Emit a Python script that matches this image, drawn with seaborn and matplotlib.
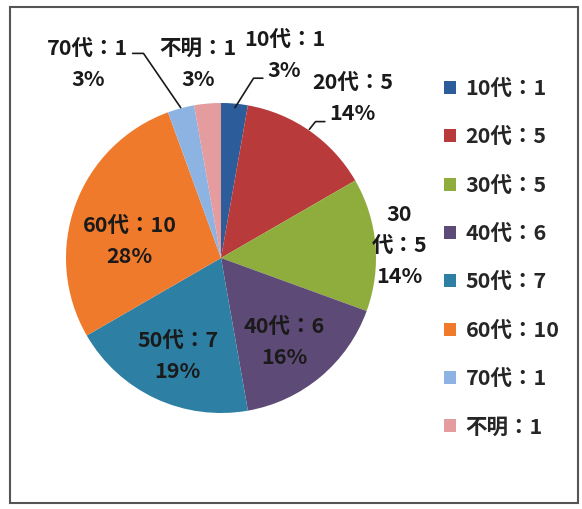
import matplotlib
matplotlib.use("Agg")
import matplotlib.pyplot as plt
from matplotlib.patches import Patch, Rectangle
import seaborn as sns

# data
groups = ["10代", "20代", "30代", "40代", "50代", "60代", "70代", "不明"]
counts = [1, 5, 5, 6, 7, 10, 1, 1]
pct_labels = ["3%", "14%", "14%", "16%", "19%", "28%", "3%", "3%"]
colors = ["#2c5c9a", "#b93a3b", "#8fad3d", "#5e4a77", "#2d80a3",
          "#f07a2b", "#8db3e2", "#e59c9e"]

# label placement (data units, pie radius = 1)
label_pos = [(0.41, 1.31), (0.85, 1.03), (1.15, 0.08), (0.41, -0.54),
             (-0.28, -0.63), (-0.59, 0.11), (-0.86, 1.25), (-0.15, 1.25)]
leaders = {0: [(0.27, 1.16), (0.21, 1.16), (0.09, 0.97)],
           1: [(0.67, 0.88), (0.61, 0.88), (0.57, 0.83)],
           6: [(-0.57, 1.32), (-0.50, 1.32), (-0.26, 0.97)]}

sns.set_theme(style="white")
plt.rcParams["font.family"] = ["Noto Sans CJK JP", "DejaVu Sans"]

W, H = 582, 509
fig = plt.figure(figsize=(W / 100, H / 100), dpi=100)
cx, cy, R, a = 221, 258, 155, 1.4
side = 2 * a * R
ax = fig.add_axes([(cx - a * R) / W, (H - cy - a * R) / H, side / W, side / H])

palette = sns.color_palette(colors)
ax.pie(counts, colors=palette, startangle=90, counterclock=False,
       wedgeprops=dict(linewidth=0))
ax.set_xlim(-a, a)
ax.set_ylim(-a, a)
ax.set_aspect("equal")
ax.axis("off")

fs = 15.5
for i, (g, c, p) in enumerate(zip(groups, counts, pct_labels)):
    x, y = label_pos[i]
    if g == "30代":
        txt = f"30\n代：{c}\n{p}"
    else:
        txt = f"{g}：{c}\n{p}"
    ax.text(x, y, txt, ha="center", va="center", fontsize=fs,
            color="#1a1a1a", linespacing=1.6, fontweight="bold", clip_on=False)

for i, pts in leaders.items():
    xs, ys = zip(*pts)
    ax.plot(xs, ys, color="#1a1a1a", lw=1.2, clip_on=False)

handles = [Patch(facecolor=col, edgecolor="none") for col in palette]
legend_labels = [f"{g}：{c}" for g, c in zip(groups, counts)]
fig.legend(handles, legend_labels, loc="upper left",
           bbox_to_anchor=(444 / W, 1 - 78 / H), frameon=False,
           prop={"weight": "bold", "size": fs},
           handlelength=0.56, handleheight=0.56, handletextpad=0.45,
           labelspacing=1.27, borderpad=0, borderaxespad=0)

fig.patches.append(Rectangle((10 / W, 1 - 503 / H), 568 / W, 496 / H,
                             transform=fig.transFigure, fill=False,
                             edgecolor="#555555", lw=1.5))

fig.savefig("out.png", dpi=100)
